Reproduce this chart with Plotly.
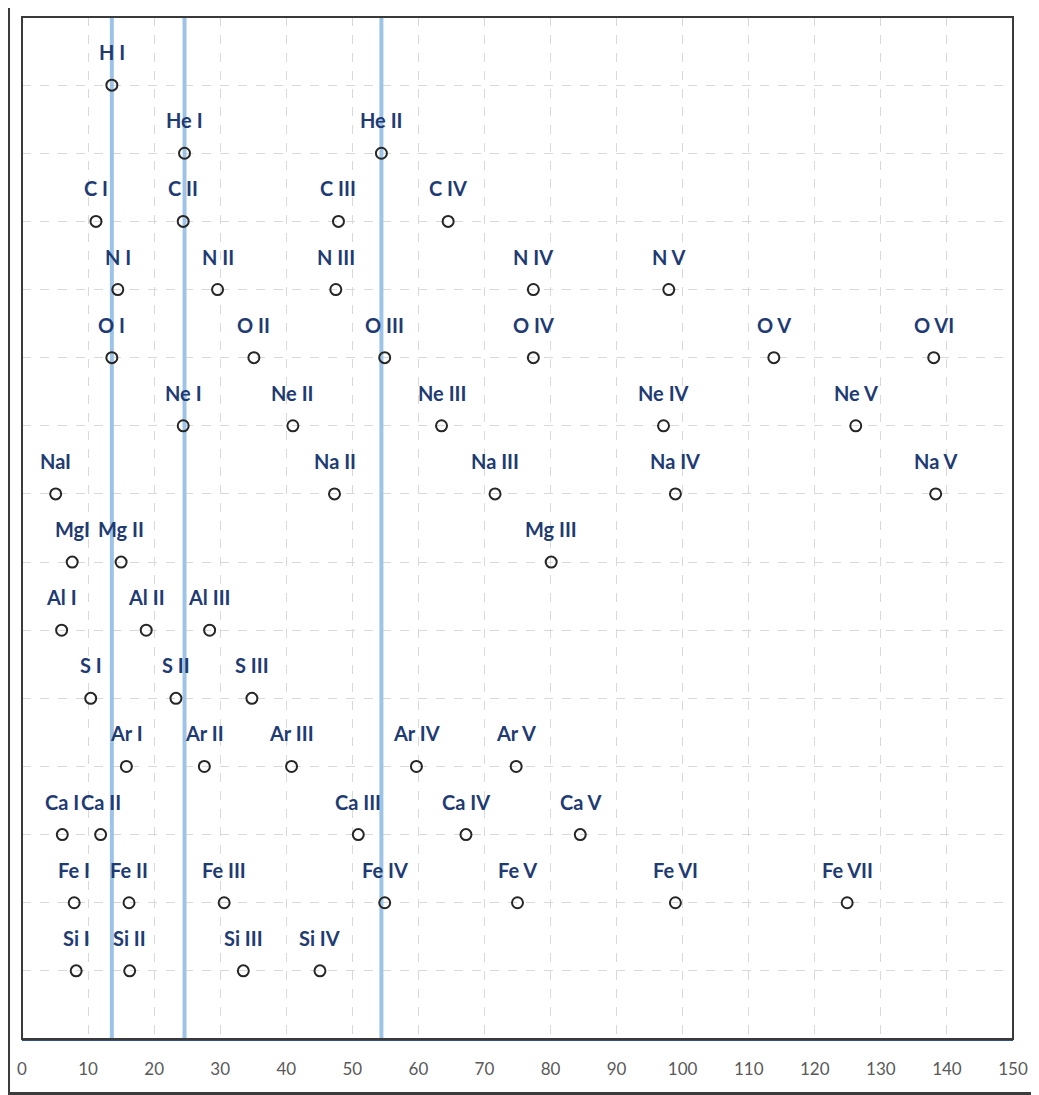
import plotly.graph_objects as go

# ionisation energies (eV), one row per element
elements = ["H", "He", "C", "N", "O", "Ne", "Na", "Mg", "Al", "S", "Ar", "Ca", "Fe", "Si"]
rows = [14, 13, 12, 11, 10, 9, 8, 7, 6, 5, 4, 3, 2, 1]

energies = [
    [13.6],
    [24.6, 54.4],
    [11.2, 24.4, 47.9, 64.5],
    [14.5, 29.6, 47.5, 77.4, 97.9],
    [13.6, 35.1, 54.9, 77.4, 113.8, 138.0],
    [24.4, 41.0, 63.5, 97.1, 126.2],
    [5.1, 47.3, 71.6, 98.9, 138.3],
    [7.6, 15.0, 80.1],
    [6.0, 18.8, 28.4],
    [10.4, 23.3, 34.8],
    [15.8, 27.6, 40.8, 59.7, 74.8],
    [6.1, 11.9, 50.9, 67.2, 84.5],
    [7.9, 16.2, 30.6, 54.9, 75.0, 98.9, 124.9],
    [8.2, 16.3, 33.5, 45.1],
]

labels = [
    ["H I"],
    ["He I", "He II"],
    ["C I", "C II", "C III", "C IV"],
    ["N I", "N II", "N III", "N IV", "N V"],
    ["O I", "O II", "O III", "O IV", "O V", "O VI"],
    ["Ne I", "Ne II", "Ne III", "Ne IV", "Ne V"],
    ["NaI", "Na II", "Na III", "Na IV", "Na V"],
    ["MgI", "Mg II", "Mg III"],
    ["Al I", "Al II", "Al III"],
    ["S I", "S II", "S III"],
    ["Ar I", "Ar II", "Ar III", "Ar IV", "Ar V"],
    ["Ca I", "Ca II", "Ca III", "Ca IV", "Ca V"],
    ["Fe I", "Fe II", "Fe III", "Fe IV", "Fe V", "Fe VI", "Fe VII"],
    ["Si I", "Si II", "Si III", "Si IV"],
]

# H I, He I and He II reference lines
ref_lines = [13.6, 24.6, 54.4]

x_ticks = list(range(0, 151, 10))

fig = go.Figure()

for xv in ref_lines:
    fig.add_trace(go.Scatter(
        x=[xv, xv], y=[0, 15], mode="lines",
        line=dict(color="#9dc3e6", width=4),
        hoverinfo="skip", showlegend=False,
    ))

for el, row, xs, labs in zip(elements, rows, energies, labels):
    fig.add_trace(go.Scatter(
        x=xs, y=[row] * len(xs), mode="markers", name=el,
        marker=dict(symbol="circle-open", size=11, color="#262626",
                    line=dict(width=2)),
        showlegend=False,
    ))
    for xv, lab in zip(xs, labs):
        fig.add_annotation(
            x=xv, y=row, text="<b>" + lab + "</b>", showarrow=False,
            yshift=33, font=dict(family="Lato", size=20, color="#1f3b73"),
        )

# white card behind the chart, dark frame around it
fig.add_shape(type="rect", xref="paper", yref="paper",
              x0=-0.0121, x1=1.0191, y0=-0.0519, y1=1.02,
              fillcolor="white", line=dict(width=0), layer="below")
# plot border
fig.add_shape(type="rect", xref="paper", yref="paper",
              x0=0, x1=1, y0=0, y1=1,
              line=dict(color="#3a3a3a", width=2), layer="above")

fig.update_xaxes(
    range=[0, 150], tickvals=x_ticks, showgrid=True,
    gridcolor="#d9d9d9", griddash="dash", gridwidth=1,
    showline=True, linecolor="#2f4f80", linewidth=2,
    ticks="", ticklabelstandoff=14, zeroline=False,
    tickfont=dict(family="Lato", size=17, color="#595959"),
)
fig.update_yaxes(
    range=[0, 15], dtick=1, showgrid=True,
    gridcolor="#d9d9d9", griddash="dash", gridwidth=1,
    showticklabels=False, zeroline=False, showline=False,
)

fig.update_layout(
    width=1031, height=1087,
    margin=dict(l=12, r=26, t=9, b=56),
    paper_bgcolor="#3b3b3b", plot_bgcolor="white",
    hovermode="closest",
)

fig.write_html("out.html")
